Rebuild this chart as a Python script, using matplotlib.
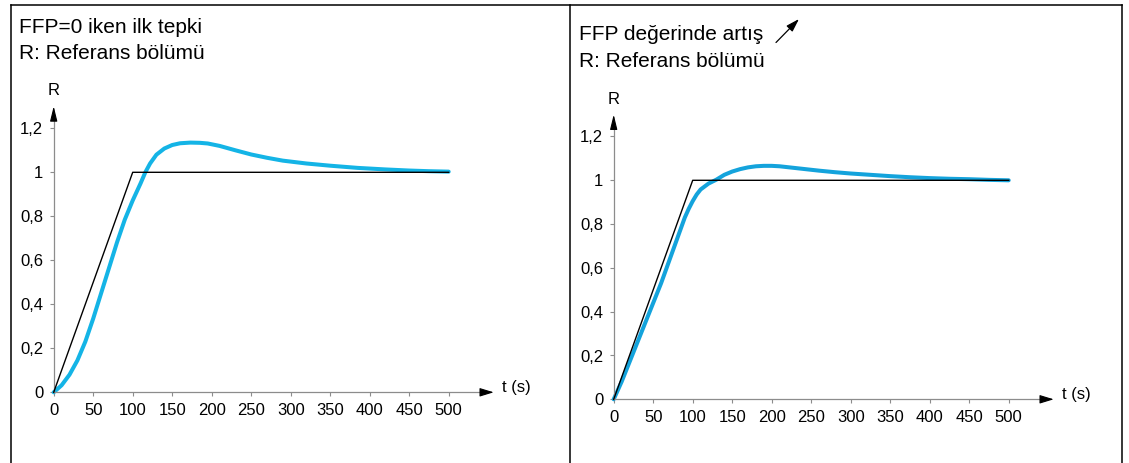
import numpy as np
import matplotlib
matplotlib.use("Agg")
import matplotlib.pyplot as plt
from matplotlib.lines import Line2D
from matplotlib.patches import FancyArrowPatch

plt.rcParams['font.family'] = ['Liberation Sans', 'DejaVu Sans']

# reference ramp (same in both panels)
t_ref = [0, 100, 500]
r_ref = [0, 1, 1]

# response with FFP = 0 (left)
t_left = [0, 10, 20, 30, 40, 50, 60, 70, 80, 90, 100, 110, 116, 122, 130,
          140, 150, 160, 173, 185, 195, 210, 230, 250, 270, 290, 320, 350,
          385, 420, 450, 475, 500]
r_left = [0, 0.032, 0.08, 0.145, 0.23, 0.335, 0.45, 0.565, 0.68, 0.785,
          0.872, 0.95, 1.0, 1.04, 1.08, 1.108, 1.124, 1.132, 1.135, 1.134,
          1.131, 1.12, 1.1, 1.081, 1.066, 1.053, 1.04, 1.03, 1.02, 1.013,
          1.008, 1.005, 1.003]

# response with increased FFP (right)
t_right = [0, 10, 20, 30, 40, 50, 60, 70, 80, 90, 95, 100, 105, 110, 120,
           130, 140, 150, 160, 170, 180, 190, 200, 210, 220, 240, 260, 280,
           300, 325, 350, 375, 400, 425, 450, 475, 500]
r_right = [0, 0.08, 0.17, 0.26, 0.35, 0.44, 0.53, 0.63, 0.73, 0.83, 0.87,
           0.905, 0.935, 0.958, 0.985, 1.003, 1.025, 1.04, 1.051, 1.059,
           1.064, 1.066, 1.066, 1.064, 1.06, 1.052, 1.044, 1.037, 1.031,
           1.025, 1.019, 1.014, 1.01, 1.007, 1.005, 1.002, 1.0]

x_ticks = [0, 50, 100, 150, 200, 250, 300, 350, 400, 450, 500]
y_ticks = [0, 0.2, 0.4, 0.6, 0.8, 1.0, 1.2]
y_labels = ['0', '0,2', '0,4', '0,6', '0,8', '1', '1,2']

titles_left = ['FFP=0 iken ilk tepki', 'R: Referans bölümü']
titles_right = ['FFP değerinde artış', 'R: Referans bölümü']

W, H = 1129, 463
fig = plt.figure(figsize=(W / 100, H / 100), dpi=100)

GRAY = '#8c8c8c'
XLIM = (-25, 600)
YLIM = (-0.12, 1.45)


def make_axes(x0_px, y0_px, sx, sy):
    # x0_px, y0_px: pixel position (from top-left) of data origin
    left = x0_px + XLIM[0] * sx
    width = (XLIM[1] - XLIM[0]) * sx
    bottom_top = y0_px - YLIM[0] * sy
    height = (YLIM[1] - YLIM[0]) * sy
    ax = fig.add_axes([left / W, (H - bottom_top) / H, width / W, height / H])
    ax.set_xlim(*XLIM)
    ax.set_ylim(*YLIM)
    ax.patch.set_alpha(0)
    for s in ['top', 'right']:
        ax.spines[s].set_visible(False)
    ax.spines['bottom'].set_position(('data', 0))
    ax.spines['left'].set_position(('data', 0))
    ax.spines['bottom'].set_bounds(0, 542)
    ax.spines['left'].set_bounds(0, 1.24)
    for s in ['bottom', 'left']:
        ax.spines[s].set_color(GRAY)
        ax.spines[s].set_linewidth(0.9)
    ax.set_xticks(x_ticks)
    ax.set_xticklabels([str(v) for v in x_ticks])
    ax.set_yticks(y_ticks)
    ax.set_yticklabels(y_labels)
    ax.tick_params(direction='out', length=3, width=0.8, color=GRAY,
                   labelcolor='black', labelsize=12, pad=4.5)
    # arrow heads
    ax.annotate('', xy=(557, 0), xytext=(541, 0),
                arrowprops=dict(arrowstyle='-|>,head_length=0.85,head_width=0.26',
                                color='black', lw=0.8, shrinkA=0, shrinkB=0,
                                mutation_scale=10))
    ax.annotate('', xy=(0, 1.30), xytext=(0, 1.235),
                arrowprops=dict(arrowstyle='-|>,head_length=0.9,head_width=0.22',
                                color='black', lw=0.8, shrinkA=0, shrinkB=0,
                                mutation_scale=10))
    ax.text(0, 1.37, 'R', ha='center', va='center', fontsize=12)
    ax.text(568, 0.02, 't (s)', ha='left', va='center', fontsize=12)
    return ax


axL = make_axes(53.7, 392.3, 0.79, 220)
axL.plot(t_ref, r_ref, color='black', lw=1.0, zorder=3)
axL.plot(t_left, r_left, color='#14b4e6', lw=2.9, solid_capstyle='round',
         solid_joinstyle='round', zorder=2)

axR = make_axes(613.7, 399.3, 0.79, 219)
axR.plot(t_ref, r_ref, color='black', lw=1.0, zorder=3)
axR.plot(t_right, r_right, color='#14a3dc', lw=2.9, solid_capstyle='round',
         solid_joinstyle='round', zorder=2)

# titles
for i, s in enumerate(titles_left):
    fig.text(19 / W, (H - 33.3 - i * 25.3) / H, s, fontsize=15, va='baseline')
for i, s in enumerate(titles_right):
    fig.text(579 / W, (H - 40 - i * 26.7) / H, s, fontsize=15, va='baseline')

# small arrow after "artış"
fig.add_artist(FancyArrowPatch((776 / W, (H - 42.5) / H), (799 / W, (H - 19) / H),
                               transform=fig.transFigure,
                               arrowstyle='-|>,head_length=0.8,head_width=0.25',
                               mutation_scale=10, color='black', lw=0.9,
                               shrinkA=0, shrinkB=0))

# panel frame
fl = dict(color='black', lw=1.1, transform=fig.transFigure)
fig.add_artist(Line2D([10.5 / W, 1121.7 / W], [(H - 4.5) / H, (H - 4.5) / H], **fl))
for xp in [10.5, 570, 1121.7]:
    fig.add_artist(Line2D([xp / W, xp / W], [0, (H - 4.5) / H], **fl))

fig.savefig('out.png', dpi=100)
